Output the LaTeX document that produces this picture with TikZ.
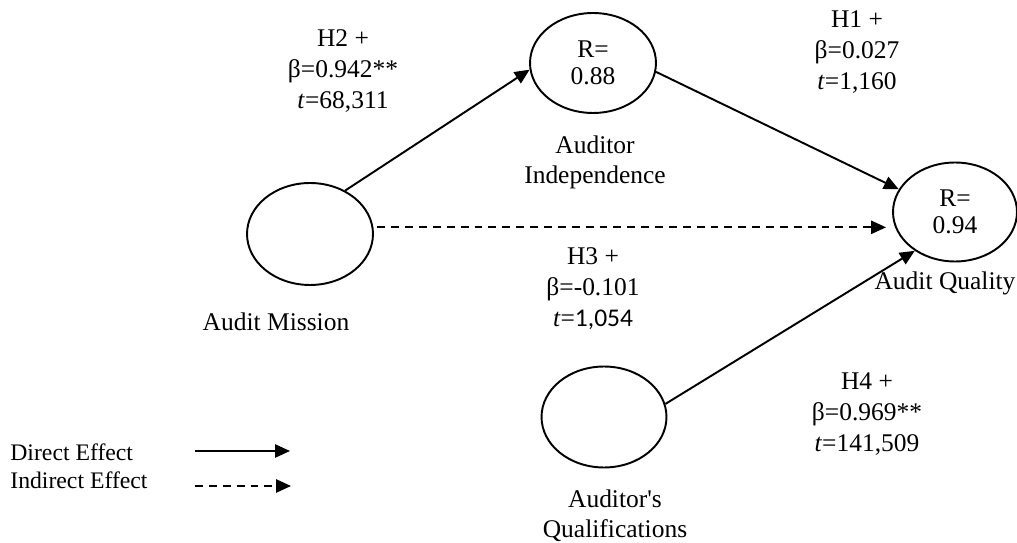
\documentclass[tikz,border=0pt]{standalone}
\usepackage{fontspec}
\setmainfont{Liberation Serif}
\newfontfamily\calibri{Carlito}
\newfontfamily\plainserif{Liberation Serif}
\usepackage{tikz}
\usetikzlibrary{arrows.meta, positioning, shapes.geometric, calc}

\begin{document}
\begin{tikzpicture}[
    x=0.02cm, y=-0.02cm,
    latent/.style={ellipse, draw, line width=1.1pt, inner sep=0pt, align=center, font=\fontsize{14.5}{15.3}\selectfont},
    lbl/.style={align=center, font=\fontsize{14.5}{17}\selectfont},
    hyp/.style={align=center, font=\fontsize{14.5}{17.6}\selectfont},
    legend/.style={anchor=west, inner sep=0pt, font=\fontsize{13.5}{16}\selectfont},
    arrow/.style={-{Triangle[length=8.5pt, width=7.5pt]}, line width=1.1pt},
    indirect/.style={dash pattern=on 4.5pt off 3.4pt}
]
\useasboundingbox (0,0) rectangle (1017,543);

% Constructs
\node[latent, minimum width=2.52cm, minimum height=2.04cm] (mission) at (310, 234) {};
\node[latent, minimum width=2.52cm, minimum height=2.0cm] (indep) at (593, 63) {R=\\0.88};
\node[latent, minimum width=2.48cm, minimum height=1.98cm] (quality) at (955, 212) {R=\\0.94};
\node[latent, minimum width=2.5cm, minimum height=2.02cm] (qualif) at (604, 417) {};

% Construct names
\node[lbl] (missionname) at (276, 322) {Audit Mission};
\node[lbl] (indepname) at (595, 162) {Auditor\\Independence};
\node[lbl] (qualityname) at (945, 283) {Audit Quality};
\node[lbl] (qualifname) at (615, 516) {Auditor{\plainserif'}s\\Qualifications};

% Paths
\draw[arrow] (mission.51) -- (indep.186);
\draw[arrow] (indep.352) -- (quality.158);
\draw[arrow, indirect, shorten <=0.08cm, shorten >=0.12cm] (mission.6) -- (mission.6 -| quality.west);
\draw[arrow] (qualif.12) -- (quality.224);

% Hypothesis labels
\node[hyp] (h2) at (343, 71) {H2 +\\β=0.942**\\\textit{t}=68,311};
\node[hyp] (h1) at (857, 52) {H1 +\\β=0.027\\\textit{t}=1,160};
\node[hyp] (h3) at (593, 289) {H3 +\\β=-0.101\\\textit{t}={\calibri 1,054}};
\node[hyp] (h4) at (867, 414) {H4 +\\β=0.969**\\\textit{t}=141,509};

% Legend
\node[legend] (direct) at (10, 452) {Direct Effect};
\node[legend] (indirecttxt) at (10, 480) {Indirect Effect};
\coordinate (dstart) at (195, 451);
\coordinate (dend) at (290, 451);
\coordinate (istart) at (195, 486);
\coordinate (iend) at (291, 486);
\draw[arrow] (dstart) -- (dend);
\draw[arrow, indirect] (istart) -- (iend);

\end{tikzpicture}
\end{document}
